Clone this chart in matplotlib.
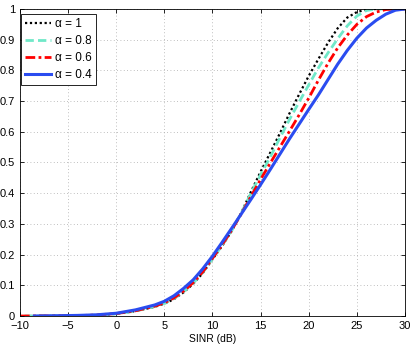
import matplotlib
matplotlib.use("Agg")
import matplotlib.pyplot as plt

x_a1 = [-9, -6, -4, -2, 0, 2, 4, 5, 6, 7, 8, 9, 10, 11, 12, 13, 14, 15, 16, 17, 18, 19, 20, 21, 22, 23, 24, 25, 26, 27, 28, 30]
y_a1 = [0, 0.0005, 0.001, 0.003, 0.007, 0.016, 0.03, 0.04, 0.055, 0.077, 0.105, 0.14, 0.185, 0.228, 0.277, 0.337, 0.405, 0.47, 0.532, 0.595, 0.66, 0.722, 0.782, 0.837, 0.89, 0.937, 0.972, 0.99, 0.998, 1.0, 1.0, 1.0]

x_a08 = [-9.5, -6, -4, -2, 0, 2, 4, 5, 6, 7, 8, 9, 10, 11, 12, 13, 14, 15, 16, 17, 18, 19, 20, 21, 22, 23, 24, 25, 26, 27, 28, 30]
y_a08 = [0, 0.0005, 0.001, 0.003, 0.007, 0.016, 0.031, 0.041, 0.057, 0.079, 0.107, 0.142, 0.186, 0.23, 0.278, 0.336, 0.4, 0.46, 0.518, 0.58, 0.64, 0.697, 0.753, 0.808, 0.857, 0.903, 0.945, 0.977, 0.995, 1.0, 1.0, 1.0]

x_a06 = [-10, -6, -4, -2, 0, 2, 4, 5, 6, 7, 8, 9, 10, 11, 12, 13, 14, 15, 16, 17, 18, 19, 20, 21, 22, 23, 24, 25, 26, 27, 28, 29, 30]
y_a06 = [0, 0.0006, 0.0012, 0.0035, 0.008, 0.017, 0.032, 0.043, 0.059, 0.081, 0.109, 0.144, 0.188, 0.232, 0.28, 0.333, 0.39, 0.445, 0.498, 0.55, 0.602, 0.655, 0.71, 0.768, 0.823, 0.873, 0.915, 0.95, 0.975, 0.99, 0.998, 1.0, 1.0]

x_a04 = [-8.5, -6, -4, -2, 0, 2, 4, 5, 6, 7, 8, 9, 10, 11, 12, 13, 14, 15, 16, 17, 18, 19, 20, 21, 22, 23, 24, 25, 26, 27, 28, 29, 30]
y_a04 = [0, 0.001, 0.002, 0.004, 0.009, 0.02, 0.036, 0.048, 0.066, 0.09, 0.118, 0.154, 0.195, 0.24, 0.286, 0.333, 0.38, 0.428, 0.477, 0.527, 0.577, 0.625, 0.673, 0.72, 0.77, 0.82, 0.865, 0.905, 0.938, 0.963, 0.983, 0.996, 1.0]

labels = ["α = 1", "α = 0.8", "α = 0.6", "α = 0.4"]
xticks = [-10, -5, 0, 5, 10, 15, 20, 25, 30]
yticks = [0, 0.1, 0.2, 0.3, 0.4, 0.5, 0.6, 0.7, 0.8, 0.9, 1]
ytick_labels = ["0", "0.1", "0.2", "0.3", "0.4", "0.5", "0.6", "0.7", "0.8", "0.9", "1"]

plt.rcParams['font.family'] = ['Liberation Sans', 'DejaVu Sans']
plt.rcParams['font.size'] = 8

fig = plt.figure(figsize=(4.15, 3.45), dpi=100)
ax = fig.add_axes([0.048, 0.084, 0.928, 0.89])

ax.plot(x_a1, y_a1, color='black', lw=1.6, linestyle=(0, (1, 1.2)), label=labels[0])
ax.plot(x_a08, y_a08, color='#70e8c8', lw=2.0, linestyle=(0, (3, 1.5)), label=labels[1])
ax.plot(x_a06, y_a06, color='#ff0000', lw=2.0, linestyle=(0, (3.5, 1.2, 1, 1.2)), label=labels[2])
ax.plot(x_a04, y_a04, color='#2a4cf0', lw=2.2, linestyle='-', label=labels[3])

ax.set_xlim(-10, 30)
ax.set_ylim(0, 1)
ax.set_xticks(xticks)
ax.set_yticks(yticks)
ax.set_yticklabels(ytick_labels)
ax.set_xticklabels([str(t) if t >= 0 else '\u2212' + str(-t) for t in xticks])
ax.tick_params(direction='in', top=True, right=True, length=3, width=0.6, pad=3.5, labelsize=8)
for s in ax.spines.values():
    s.set_linewidth(0.6)
ax.grid(True, linestyle=(0, (1, 3)), color='#aaaaaa', lw=0.6)
ax.set_xlabel("SINR (dB)", labelpad=2, fontsize=7.5)

leg = ax.legend(loc='upper left', bbox_to_anchor=(0.003, 0.984), fancybox=False, framealpha=1,
                edgecolor='black', borderaxespad=0, handlelength=2.2, handletextpad=0.3,
                labelspacing=0.42, borderpad=0.35, fontsize=8.5)
leg.get_frame().set_linewidth(0.6)

fig.savefig("out.png", dpi=100)
